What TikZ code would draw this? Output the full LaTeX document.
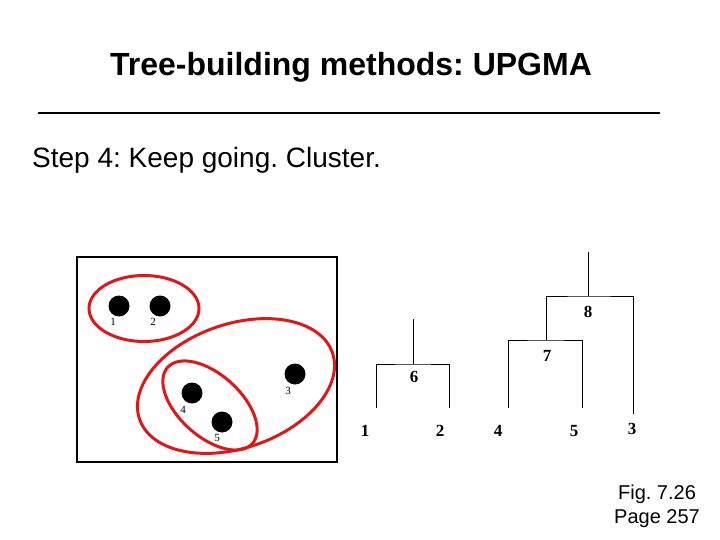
\documentclass[tikz,border=0pt]{standalone}
\usepackage{fontspec}
\setmainfont{Liberation Serif}
\setsansfont{Liberation Sans}
\usetikzlibrary{calc}
\definecolor{clusred}{RGB}{222,24,24}
\frenchspacing

\begin{document}
\begin{tikzpicture}[x=1pt,y=-1pt]
	\tikzstyle{dot} = [circle, minimum size=21pt, fill, inner sep=0pt];
	\tikzstyle{dotlab} = [font=\fontsize{11}{11}\selectfont, inner sep=0pt];
	\tikzstyle{clus} = [draw=clusred, line width=3pt];
	\tikzstyle{leaf} = [font=\bfseries\fontsize{17}{17}\selectfont, inner sep=0pt];
	\tikzstyle{branch} = [line width=0.9pt];
	
	\useasboundingbox (0,0) rectangle (720,540);
	
	% heading
	\node[font=\sffamily\bfseries\fontsize{32}{32}\selectfont] (title) at (351,67) {Tree-building methods: UPGMA};
	\draw[line width=1.6pt] (38,113) -- (660,113);
	\node[font=\sffamily\fontsize{28}{28}\selectfont, anchor=west, inner sep=0pt] (step) at (32,160) {Step 4: Keep going. Cluster.};
	
	% points
	\draw[line width=2.2pt] (77,257) rectangle (337,462);
	\node[dot] (d1) at (119,306) {};
	\node[dot] (d2) at (160,306) {};
	\node[dot] (d3) at (295,374) {};
	\node[dot] (d4) at (192,393) {};
	\node[dot] (d5) at (222,422) {};
	\node[dotlab] (p1) at (113,322) {1};
	\node[dotlab] (p2) at (153,322) {2};
	\node[dotlab] (p3) at (288,391) {3};
	\node[dotlab] (p4) at (183,410) {4};
	\node[dotlab] (p5) at (217,438) {5};
	
	\draw[clus] (144,308.5) ellipse [x radius=55, y radius=33];
	\draw[clus, rotate around={-42:(210,405.5)}] (210,405.5) ellipse [x radius=57, y radius=31];
	\draw[clus, rotate around={19:(236,386)}] (236,386) ellipse [x radius=102, y radius=62];
	
	% tree
	\coordinate (l1) at (376,408);
	\coordinate (l2) at (449,408);
	\coordinate (l4) at (508,408);
	\coordinate (l5) at (582,408);
	\coordinate (l3) at (633,414);
	\coordinate (t6) at (413,364);
	\coordinate (r6) at (413,319);
	\coordinate (t7) at (546,340);
	\coordinate (t8) at (588,296);
	\coordinate (r8) at (588,252);
	
	\draw[branch] (l1) |- (t6) -| (l2);
	\draw[branch] (t6) -- (r6);
	\draw[branch] (l4) |- (t7) -| (l5);
	\draw[branch] (t7) |- (t8) -| (l3);
	\draw[branch] (t8) -- (r8);
	
	\node[leaf] (n6) at (414,377) {6};
	\node[leaf] (n7) at (547,356) {7};
	\node[leaf] (n8) at (588,312) {8};
	\node[leaf] (n1) at (365,431) {1};
	\node[leaf] (n2) at (440,431) {2};
	\node[leaf] (n4) at (498,431) {4};
	\node[leaf] (n5) at (574,431) {5};
	\node[leaf] (n3) at (632,429) {3};
	
	\node[font=\sffamily\fontsize{20}{24}\selectfont, align=center] (fig) at (657,506) {Fig. 7.26\\Page 257};
\end{tikzpicture}
\end{document}
